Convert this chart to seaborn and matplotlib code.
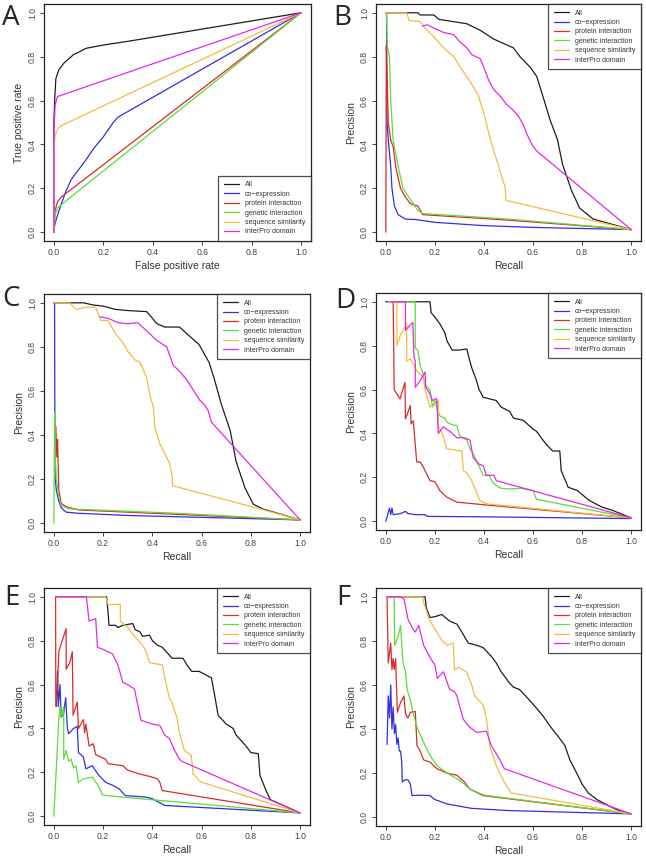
import numpy as np
import pandas as pd
import seaborn as sns
import matplotlib
matplotlib.use("Agg")
import matplotlib.pyplot as plt

# series names and colours (same order in every panel)
series = ["All", "co\u2212expression", "protein interaction", "genetic interaction",
          "sequence similarity", "InterPro domain"]
colors = ["#1e1e1e", "#3030e0", "#d92b2b", "#5ddc3a", "#f2bc40", "#e22ae2"]

# ---- panel A: ROC (fpr, tpr)
a_all = [(0, 0), (0, 0.5), (0.003, 0.6), (0.008, 0.7), (0.02, 0.74), (0.04, 0.77),
         (0.06, 0.79), (0.08, 0.81), (0.1, 0.82), (0.13, 0.838), (0.2, 0.853),
         (0.3, 0.87), (1, 1)]
a_coexp = [(0, 0), (0.003, 0.03), (0.01, 0.06), (0.03, 0.13), (0.05, 0.19), (0.07, 0.24),
           (0.09, 0.27), (0.13, 0.33), (0.16, 0.38), (0.2, 0.435), (0.24, 0.5),
           (0.26, 0.525), (1, 1)]
a_prot = [(0, 0), (0.005, 0.1), (0.015, 0.14), (0.03, 0.16), (0.05, 0.178), (1, 1)]
a_gen = [(0, 0), (0.005, 0.08), (0.015, 0.11), (0.04, 0.135), (1, 1)]
a_seq = [(0, 0), (0, 0.38), (0.005, 0.44), (0.015, 0.47), (0.027, 0.484), (1, 1)]
a_ipr = [(0, 0), (0, 0.45), (0.005, 0.58), (0.014, 0.618), (1, 1)]

# ---- panel B: precision-recall
b_all = [(0, 1), (0.13, 1.0), (0.14, 0.99), (0.196, 0.99), (0.216, 0.97), (0.33, 0.95),
         (0.385, 0.92), (0.44, 0.88), (0.48, 0.86), (0.52, 0.84), (0.547, 0.8),
         (0.59, 0.75), (0.615, 0.71), (0.64, 0.62), (0.67, 0.51), (0.7, 0.42),
         (0.72, 0.31), (0.757, 0.19), (0.79, 0.11), (0.845, 0.06), (0.91, 0.04), (1, 0.012)]
b_coexp = [(0, 1.0), (0.003, 1.0), (0.005, 0.5), (0.01, 0.42), (0.02, 0.3), (0.025, 0.2),
           (0.035, 0.12), (0.05, 0.08), (0.08, 0.06), (0.12, 0.058), (0.2, 0.045),
           (0.4, 0.03), (0.6, 0.022), (1, 0.012)]
b_prot = [(0, 0), (0.002, 0.85), (0.005, 0.72), (0.01, 0.5), (0.02, 0.42), (0.03, 0.39),
          (0.04, 0.3), (0.06, 0.2), (0.08, 0.16), (0.1, 0.13), (0.13, 0.12), (0.15, 0.08),
          (0.5, 0.055), (1, 0.012)]
b_gen = [(0.003, 1.0), (0.006, 0.85), (0.015, 0.8), (0.02, 0.6), (0.03, 0.42), (0.05, 0.3),
         (0.07, 0.2), (0.1, 0.15), (0.13, 0.1), (0.15, 0.085), (0.5, 0.06), (1, 0.012)]
b_seq = [(0, 1.0), (0.085, 1.0), (0.095, 0.965), (0.14, 0.96), (0.16, 0.93), (0.196, 0.89),
         (0.236, 0.84), (0.277, 0.8), (0.304, 0.75), (0.33, 0.71), (0.358, 0.66),
         (0.378, 0.62), (0.4, 0.54), (0.42, 0.45), (0.44, 0.37), (0.46, 0.3),
         (0.486, 0.205), (0.49, 0.145), (1, 0.012)]
b_ipr = [(0.149, 0.94), (0.17, 0.945), (0.196, 0.93), (0.236, 0.91), (0.277, 0.9),
         (0.3, 0.87), (0.33, 0.84), (0.35, 0.81), (0.385, 0.79), (0.4, 0.75), (0.42, 0.69),
         (0.44, 0.65), (0.466, 0.62), (0.49, 0.585), (0.52, 0.555), (0.54, 0.53),
         (0.56, 0.49), (0.574, 0.45), (0.595, 0.4), (0.615, 0.37), (1, 0.012)]

# ---- panel C
c_all = [(0, 1), (0.12, 1.0), (0.16, 0.99), (0.2, 0.985), (0.25, 0.97), (0.3, 0.965),
         (0.377, 0.96), (0.4, 0.93), (0.417, 0.906), (0.45, 0.89), (0.51, 0.89),
         (0.56, 0.84), (0.59, 0.81), (0.63, 0.73), (0.65, 0.66), (0.68, 0.54),
         (0.716, 0.42), (0.74, 0.28), (0.776, 0.16), (0.81, 0.086), (0.85, 0.064),
         (1, 0.015)]
c_coexp = [(0, 1.0), (0.003, 1.0), (0.004, 0.5), (0.006, 0.2), (0.01, 0.15), (0.02, 0.1),
           (0.03, 0.07), (0.05, 0.05), (0.1, 0.045), (0.3, 0.035), (1, 0.015)]
c_prot = [(0.008, 0.44), (0.012, 0.3), (0.015, 0.38), (0.02, 0.15), (0.03, 0.09),
          (0.05, 0.075), (0.1, 0.06), (0.5, 0.04), (1, 0.015)]
c_gen = [(0, 0), (0.003, 0.5), (0.006, 0.3), (0.01, 0.2), (0.02, 0.12), (0.03, 0.08),
         (0.06, 0.065), (0.5, 0.045), (1, 0.015)]
c_seq = [(0, 1), (0.065, 1.0), (0.09, 0.97), (0.13, 0.98), (0.17, 0.98), (0.19, 0.92),
         (0.22, 0.92), (0.25, 0.86), (0.28, 0.82), (0.3, 0.78), (0.33, 0.74), (0.35, 0.73),
         (0.377, 0.66), (0.39, 0.58), (0.404, 0.527), (0.41, 0.435), (0.43, 0.36),
         (0.444, 0.33), (0.47, 0.27), (0.48, 0.22), (0.482, 0.17), (0.82, 0.07), (1, 0.015)]
c_ipr = [(0.187, 0.936), (0.22, 0.93), (0.26, 0.91), (0.3, 0.905), (0.34, 0.91),
         (0.37, 0.88), (0.417, 0.83), (0.458, 0.8), (0.485, 0.716), (0.51, 0.69),
         (0.54, 0.65), (0.593, 0.557), (0.61, 0.54), (0.627, 0.51), (0.64, 0.458),
         (1, 0.015)]

# ---- panel D
d_all = [(0, 1), (0.18, 1.0), (0.185, 0.95), (0.2, 0.93), (0.22, 0.9), (0.24, 0.86),
         (0.25, 0.82), (0.27, 0.78), (0.3, 0.78), (0.33, 0.785), (0.34, 0.74), (0.35, 0.7),
         (0.37, 0.64), (0.38, 0.6), (0.397, 0.565), (0.45, 0.55), (0.47, 0.52),
         (0.505, 0.5), (0.52, 0.47), (0.56, 0.46), (0.6, 0.42), (0.614, 0.41), (0.64, 0.37),
         (0.654, 0.35), (0.68, 0.32), (0.709, 0.32), (0.715, 0.23), (0.743, 0.155),
         (0.78, 0.14), (0.83, 0.094), (0.88, 0.065), (0.925, 0.049), (1, 0.015)]
d_coexp = [(0, 0), (0.01, 0.04), (0.015, 0.06), (0.02, 0.03), (0.025, 0.06), (0.03, 0.03),
           (0.06, 0.035), (0.08, 0.045), (0.09, 0.035), (0.12, 0.03), (0.16, 0.03),
           (0.17, 0.022), (0.4, 0.02), (1, 0.012)]
d_prot = [(0.03, 1.0), (0.034, 0.6), (0.058, 0.557), (0.078, 0.633), (0.08, 0.466),
          (0.1, 0.527), (0.103, 0.443), (0.112, 0.458), (0.12, 0.35), (0.126, 0.27),
          (0.14, 0.27), (0.153, 0.246), (0.18, 0.185), (0.2, 0.18), (0.22, 0.14),
          (0.248, 0.11), (0.29, 0.087), (0.4, 0.075), (1, 0.015)]
d_gen = [(0.02, 1.0), (0.12, 1.0), (0.12, 0.79), (0.13, 0.78), (0.14, 0.71), (0.15, 0.68),
         (0.16, 0.62), (0.18, 0.6), (0.19, 0.52), (0.2, 0.55), (0.22, 0.48), (0.24, 0.47),
         (0.25, 0.45), (0.27, 0.44), (0.29, 0.435), (0.3, 0.39), (0.33, 0.37),
         (0.343, 0.33), (0.36, 0.3), (0.38, 0.25), (0.397, 0.21), (0.42, 0.21),
         (0.44, 0.17), (0.47, 0.15), (0.505, 0.147), (0.55, 0.15), (0.6, 0.14),
         (0.614, 0.1), (1, 0.015)]
d_seq = [(0.01, 1.0), (0.045, 1.0), (0.045, 0.8), (0.06, 0.85), (0.085, 0.9), (0.085, 0.73),
         (0.1, 0.74), (0.11, 0.72), (0.13, 0.68), (0.153, 0.655), (0.16, 0.6),
         (0.18, 0.52), (0.2, 0.53), (0.214, 0.55), (0.214, 0.43), (0.23, 0.4),
         (0.248, 0.33), (0.31, 0.32), (0.316, 0.23), (0.33, 0.22), (0.35, 0.185),
         (0.37, 0.13), (0.383, 0.094), (0.41, 0.079), (1, 0.015)]
d_ipr = [(0.02, 1.0), (0.08, 1.0), (0.08, 0.87), (0.11, 0.906), (0.115, 0.75), (0.12, 0.73),
         (0.12, 0.61), (0.14, 0.64), (0.16, 0.68), (0.163, 0.61), (0.18, 0.58),
         (0.19, 0.55), (0.207, 0.56), (0.214, 0.4), (0.234, 0.43), (0.26, 0.41),
         (0.29, 0.38), (0.32, 0.38), (0.343, 0.37), (0.356, 0.29), (0.38, 0.26),
         (0.397, 0.253), (0.41, 0.208), (0.44, 0.21), (0.45, 0.185), (1, 0.015)]

# ---- panel E
e_all = [(0.01, 1.0), (0.214, 1.0), (0.22, 0.93), (0.224, 0.87), (0.25, 0.87), (0.26, 0.86),
         (0.28, 0.87), (0.32, 0.878), (0.33, 0.85), (0.35, 0.84), (0.36, 0.82),
         (0.388, 0.825), (0.4, 0.8), (0.42, 0.78), (0.44, 0.77), (0.456, 0.75),
         (0.48, 0.72), (0.524, 0.72), (0.54, 0.69), (0.56, 0.66), (0.59, 0.66),
         (0.64, 0.63), (0.653, 0.55), (0.667, 0.46), (0.7, 0.42), (0.728, 0.4),
         (0.74, 0.37), (0.78, 0.32), (0.8, 0.29), (0.83, 0.285), (0.837, 0.186),
         (0.864, 0.11), (0.88, 0.075), (0.93, 0.05), (0.96, 0.035), (1, 0.015)]
e_coexp = [(0.01, 0.5), (0.015, 0.66), (0.018, 0.5), (0.025, 0.6), (0.03, 0.45),
           (0.04, 0.47), (0.048, 0.54), (0.055, 0.4), (0.06, 0.376), (0.08, 0.4),
           (0.095, 0.41), (0.1, 0.29), (0.12, 0.27), (0.13, 0.216), (0.156, 0.23),
           (0.18, 0.19), (0.21, 0.155), (0.24, 0.14), (0.265, 0.125), (0.29, 0.094),
           (0.375, 0.087), (0.4, 0.08), (0.45, 0.049), (1, 0.015)]
e_prot = [(0.007, 1.0), (0.008, 0.5), (0.015, 0.6), (0.02, 0.75), (0.034, 0.8),
          (0.05, 0.855), (0.05, 0.67), (0.065, 0.7), (0.075, 0.75), (0.078, 0.46),
          (0.095, 0.52), (0.1, 0.4), (0.12, 0.44), (0.125, 0.38), (0.13, 0.42),
          (0.143, 0.32), (0.16, 0.33), (0.17, 0.28), (0.19, 0.27), (0.21, 0.26),
          (0.22, 0.24), (0.28, 0.23), (0.3, 0.21), (0.347, 0.193), (0.4, 0.178),
          (0.42, 0.17), (0.43, 0.155), (0.44, 0.117), (1, 0.015)]
e_gen = [(0, 0), (0.02, 0.44), (0.025, 0.5), (0.03, 0.45), (0.04, 0.5), (0.04, 0.26),
         (0.05, 0.3), (0.06, 0.25), (0.07, 0.26), (0.08, 0.22), (0.09, 0.23),
         (0.1, 0.155), (0.12, 0.17), (0.156, 0.178), (0.18, 0.14), (0.197, 0.097),
         (0.25, 0.09), (0.3, 0.085), (1, 0.015)]
e_seq = [(0.01, 1.0), (0.21, 1.0), (0.22, 0.965), (0.27, 0.965), (0.27, 0.89), (0.3, 0.86),
         (0.32, 0.83), (0.36, 0.78), (0.375, 0.75), (0.388, 0.7), (0.44, 0.69),
         (0.45, 0.63), (0.47, 0.536), (0.48, 0.52), (0.49, 0.48), (0.5, 0.45),
         (0.51, 0.38), (0.53, 0.3), (0.558, 0.277), (0.565, 0.193), (0.59, 0.163),
         (0.6, 0.155), (1, 0.015)]
e_ipr = [(0.01, 1.0), (0.132, 1.0), (0.143, 0.89), (0.17, 0.9), (0.177, 0.77),
         (0.2, 0.76), (0.238, 0.74), (0.26, 0.69), (0.28, 0.61), (0.3, 0.6), (0.327, 0.58),
         (0.354, 0.437), (0.4, 0.42), (0.43, 0.414), (0.45, 0.37), (0.47, 0.353),
         (0.49, 0.3), (0.51, 0.26), (0.52, 0.25), (1, 0.015)]

# ---- panel F
f_all = [(0.005, 1.0), (0.16, 1.0), (0.165, 0.95), (0.18, 0.906), (0.2, 0.91),
         (0.228, 0.92), (0.26, 0.89), (0.29, 0.876), (0.31, 0.84), (0.336, 0.79),
         (0.37, 0.78), (0.396, 0.77), (0.43, 0.73), (0.45, 0.7), (0.47, 0.66),
         (0.503, 0.61), (0.52, 0.59), (0.544, 0.58), (0.57, 0.55), (0.61, 0.5),
         (0.64, 0.46), (0.678, 0.4), (0.7, 0.37), (0.73, 0.325), (0.75, 0.26),
         (0.778, 0.2), (0.8, 0.15), (0.825, 0.11), (0.86, 0.08), (0.906, 0.053),
         (0.94, 0.035), (1, 0.015)]
f_coexp = [(0.005, 0.33), (0.01, 0.55), (0.015, 0.45), (0.02, 0.6), (0.025, 0.4),
           (0.03, 0.5), (0.035, 0.38), (0.04, 0.42), (0.045, 0.33), (0.05, 0.36),
           (0.055, 0.3), (0.06, 0.3), (0.065, 0.25), (0.067, 0.16), (0.08, 0.17),
           (0.09, 0.17), (0.1, 0.15), (0.107, 0.098), (0.14, 0.1), (0.18, 0.098),
           (0.2, 0.08), (0.25, 0.06), (0.3, 0.05), (0.35, 0.04), (0.5, 0.03), (1, 0.015)]
f_prot = [(0.005, 1.0), (0.01, 0.7), (0.02, 0.79), (0.025, 0.67), (0.03, 0.72),
          (0.034, 0.67), (0.04, 0.72), (0.047, 0.476), (0.06, 0.52), (0.074, 0.55),
          (0.08, 0.47), (0.09, 0.45), (0.1, 0.476), (0.12, 0.48), (0.127, 0.325),
          (0.14, 0.3), (0.154, 0.26), (0.18, 0.25), (0.208, 0.22), (0.25, 0.2),
          (0.29, 0.19), (0.32, 0.16), (0.342, 0.128), (0.396, 0.098), (1, 0.015)]
f_gen = [(0.005, 1.0), (0.034, 1.0), (0.036, 0.78), (0.05, 0.82), (0.06, 0.87),
         (0.065, 0.78), (0.07, 0.7), (0.08, 0.66), (0.087, 0.58), (0.1, 0.53),
         (0.114, 0.46), (0.13, 0.4), (0.154, 0.34), (0.18, 0.28), (0.208, 0.234),
         (0.25, 0.2), (0.29, 0.174), (0.32, 0.15), (0.342, 0.128), (0.38, 0.11),
         (0.4, 0.1), (1, 0.015)]
f_seq = [(0.005, 1.0), (0.15, 1.0), (0.154, 0.975), (0.18, 0.89), (0.208, 0.84),
         (0.23, 0.8), (0.25, 0.78), (0.275, 0.79), (0.28, 0.67), (0.3, 0.68),
         (0.33, 0.657), (0.35, 0.6), (0.362, 0.55), (0.396, 0.51), (0.41, 0.45),
         (0.423, 0.325), (0.45, 0.234), (0.483, 0.158), (0.51, 0.11), (1, 0.015)]
f_ipr = [(0.005, 1.0), (0.06, 1.0), (0.074, 0.99), (0.09, 0.9), (0.107, 0.86),
         (0.12, 0.84), (0.134, 0.87), (0.154, 0.78), (0.18, 0.725), (0.2, 0.69),
         (0.21, 0.63), (0.235, 0.66), (0.26, 0.58), (0.28, 0.57), (0.29, 0.55),
         (0.315, 0.446), (0.34, 0.41), (0.37, 0.385), (0.41, 0.39), (0.43, 0.325),
         (0.463, 0.264), (0.483, 0.22), (1, 0.015)]

panels = {
    "A": [a_all, a_coexp, a_prot, a_gen, a_seq, a_ipr],
    "B": [b_all, b_coexp, b_prot, b_gen, b_seq, b_ipr],
    "C": [c_all, c_coexp, c_prot, c_gen, c_seq, c_ipr],
    "D": [d_all, d_coexp, d_prot, d_gen, d_seq, d_ipr],
    "E": [e_all, e_coexp, e_prot, e_gen, e_seq, e_ipr],
    "F": [f_all, f_coexp, f_prot, f_gen, f_seq, f_ipr],
}

sns.set_theme(style="ticks")
plt.rcParams["font.family"] = ["Liberation Sans", "DejaVu Sans"]

W, H = 646, 860
fig = plt.figure(figsize=(W / 100, H / 100), dpi=100)


def box(l, t, r, b):
    return [l / W, 1 - b / H, (r - l) / W, (b - t) / H]


# pixel boxes of each panel (left, top, right, bottom)
boxes = {"A": (44, 4, 311, 241), "B": (376, 4, 641, 241),
         "C": (44, 294, 310, 532), "D": (376, 293, 641, 530),
         "E": (44, 588, 310, 825), "F": (376, 588, 641, 826)}
letter_pos = {"A": (2, 4), "B": (333, 4), "C": (2, 285), "D": (335, 287),
              "E": (4, 584), "F": (336, 584)}

for key, data in panels.items():
    ax = fig.add_axes(box(*boxes[key]))
    frames = []
    for name, pts in zip(series, data):
        arr = np.array(pts, dtype=float)
        frames.append(pd.DataFrame({"x": arr[:, 0], "y": arr[:, 1], "s": name}))
    df = pd.concat(frames, ignore_index=True)
    sns.lineplot(data=df, x="x", y="y", hue="s", palette=dict(zip(series, colors)),
                 sort=False, estimator=None, lw=0.9, ax=ax)
    ax.set_xlim(-0.04, 1.04)
    ax.set_ylim(-0.04, 1.04)
    ticks = [0.0, 0.2, 0.4, 0.6, 0.8, 1.0]
    ax.set_xticks(ticks)
    ax.set_yticks(ticks)
    ax.set_xticklabels([f"{t:.1f}" for t in ticks])
    ax.set_yticklabels([f"{t:.1f}" for t in ticks], rotation=90, va="center")
    ax.tick_params(labelsize=6.2, length=3, width=0.6, pad=2, colors="#222222",
                   labelcolor="#444444")
    for sp in ax.spines.values():
        sp.set_linewidth(0.9)
        sp.set_color("#222222")
    if key == "A":
        ax.set_xlabel("False positive rate", fontsize=7.5, labelpad=3, color="#333333")
        ax.set_ylabel("True positive rate", fontsize=7.5, labelpad=3, color="#333333")
        loc = "lower right"
    else:
        ax.set_xlabel("Recall", fontsize=7.5, labelpad=3, color="#333333")
        ax.set_ylabel("Precision", fontsize=7.5, labelpad=3, color="#333333")
        loc = "upper right"
    leg = ax.legend(loc=loc, fontsize=5, frameon=True, fancybox=False,
                    borderaxespad=0, handlelength=2.2, handletextpad=0.9,
                    labelspacing=0.35, borderpad=0.8, title=None)
    leg.get_frame().set_edgecolor("#222222")
    leg.get_frame().set_linewidth(0.9)
    for t in leg.get_texts():
        t.set_color("#333333")
    lx, ly = letter_pos[key]
    fig.text(lx / W, 1 - ly / H, key, fontsize=20, va="top", ha="left",
             family=["Open Sans", "DejaVu Sans"])

fig.savefig("out.png", dpi=100)
